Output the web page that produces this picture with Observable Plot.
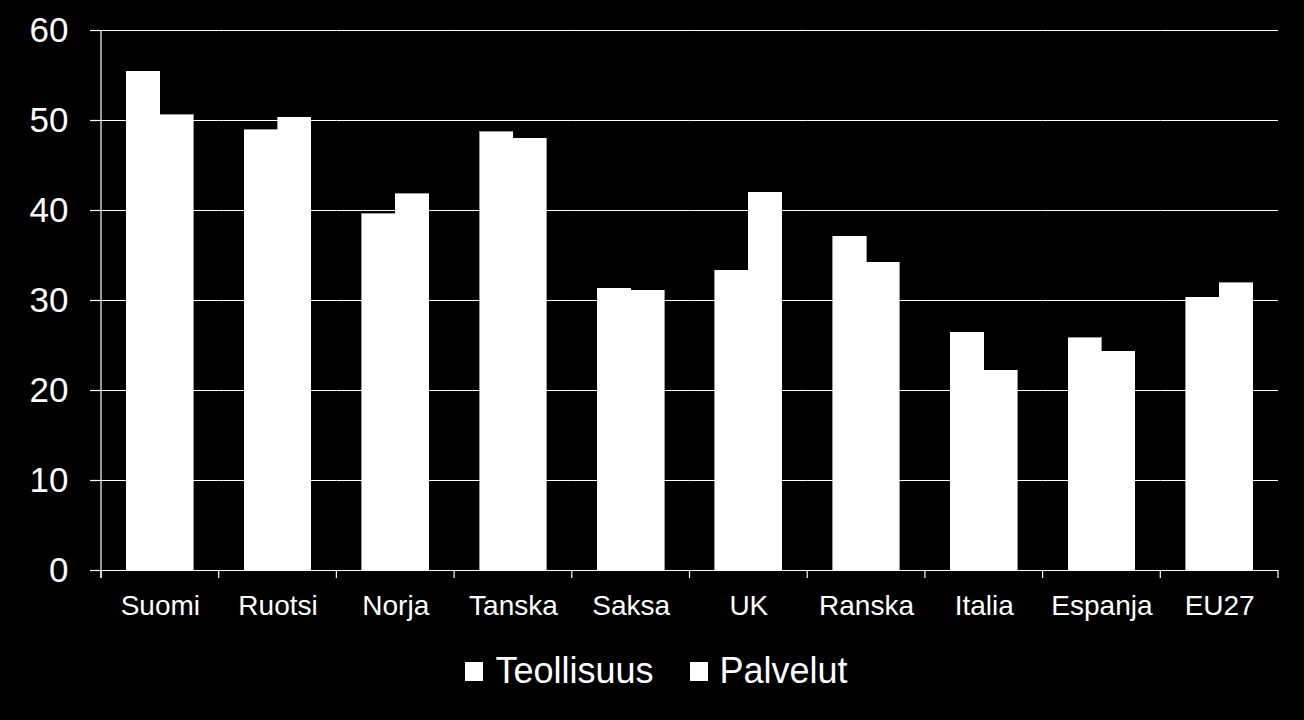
<!DOCTYPE html>
<html>
<head>
<meta charset="utf-8">
<script src="https://cdn.jsdelivr.net/npm/d3@7"></script>
<script src="https://cdn.jsdelivr.net/npm/@observablehq/plot@0.6"></script>
<style>
  html, body { margin: 0; padding: 0; background: #000; }
  #chart { width: 1304px; height: 640px; }
  .legend { display: flex; justify-content: center; align-items: center; line-height: 40px; height: 40px; margin-top: 11px;
    font-family: "Liberation Sans", Arial, sans-serif; font-size: 36px; color: #fff; padding-left: 9px; width: 1295px; }
  .legend .item { display: flex; align-items: center; margin: 0 18px; }
  .legend .sw { width: 18px; height: 19px; background: #fff; margin-right: 12px; }
</style>
</head>
<body>
<div id="chart"></div>
<script>
const countries = ["Suomi", "Ruotsi", "Norja", "Tanska", "Saksa", "UK", "Ranska", "Italia", "Espanja", "EU27"];
const seriesNames = ["Teollisuus", "Palvelut"];
const teollisuus = [55.4, 48.9, 39.6, 48.7, 31.3, 33.3, 37.1, 26.4, 25.8, 30.3];
const palvelut   = [50.6, 50.3, 41.8, 48.0, 31.1, 42.0, 34.2, 22.2, 24.3, 31.9];
const yTicks = [0, 10, 20, 30, 40, 50, 60];

const data = countries.flatMap((c, i) => [
  {country: c, series: seriesNames[0], value: teollisuus[i]},
  {country: c, series: seriesNames[1], value: palvelut[i]}
]);

const font = "'Liberation Sans', Arial, sans-serif";

const plot = Plot.plot({
  width: 1304,
  height: 640,
  marginLeft: 101,
  marginRight: 26,
  marginTop: 30,
  marginBottom: 70,
  style: {background: "#000", color: "#fff", fontFamily: font},
  fx: {domain: countries, paddingInner: 0, paddingOuter: 0, round: false, label: null},
  x: {domain: seriesNames, paddingInner: 0, paddingOuter: 0.76, round: false, axis: null},
  y: {domain: [0, 60], label: null},
  marks: [
    Plot.ruleY(yTicks, {stroke: "#fff", strokeWidth: 1.2}),
    Plot.barY(data, {fx: "country", x: "series", y: "value", fill: "#fff", stroke: "#fff", strokeWidth: 0.6, shapeRendering: "crispEdges"}),
    Plot.axisY({ticks: yTicks, tickSize: 11, tickPadding: 22, fontSize: 35, stroke: "#fff", strokeWidth: 1.2, label: null}),
    Plot.axisFx({anchor: "bottom", tickSize: 0, tickPadding: 25, fontSize: 28, label: null})
  ]
});

document.getElementById("chart").appendChild(plot);

// category boundary ticks and vertical axis line, from the library's scales
const fx = plot.scale("fx");
const y = plot.scale("y");
const bw = fx.bandwidth;
const bounds = countries.map(c => fx.apply(c));
bounds.push(fx.apply(countries[countries.length - 1]) + bw);
const y0 = y.apply(0);
const svg = d3.select(plot);
const g = svg.append("g").attr("stroke", "#fff").attr("stroke-width", 1.2);
g.selectAll("line.bt").data(bounds).join("line")
  .attr("x1", d => d).attr("x2", d => d)
  .attr("y1", y0).attr("y2", y0 + 8);
g.append("line")
  .attr("x1", bounds[0]).attr("x2", bounds[0])
  .attr("y1", y.apply(60)).attr("y2", y0 + 8);

// legend
const legend = d3.select("body").append("div").attr("class", "legend");
seriesNames.forEach(s => {
  const it = legend.append("div").attr("class", "item");
  it.append("div").attr("class", "sw");
  it.append("span").text(s);
});
</script>
</body>
</html>
